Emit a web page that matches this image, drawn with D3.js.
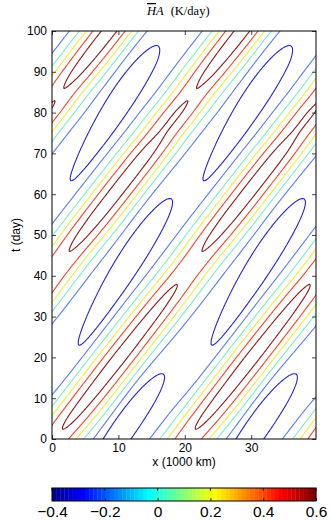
<!DOCTYPE html>
<html>
<head>
<meta charset="utf-8">
<script src="https://cdn.jsdelivr.net/npm/d3@7"></script>
<style>
  body { margin: 0; background: #fff; }
  svg { display: block; }
  text { font-family: "Liberation Sans", Arial, Helvetica, sans-serif; fill: #000; }
</style>
</head>
<body>
<svg id="svg"></svg>
<script>
// contour levels (K/day) and their line colours
const levels = [-0.3, -0.15, 0, 0.15, 0.3, 0.45]
const levelColors = ["#2323dc", "#5b7ef4", "#7cefc4", "#eeee3c", "#fb4422", "#8e1818"]

// warm crest (repeats every 20 000 km): position along t
const crestT = [0, 10, 20, 30, 40, 50, 60, 70, 80, 90, 100]
const crestX = [0.5, 5.4, 10.2, 15.0, 19.8, 24.6, 29.4, 34.2, 39.0, 43.8, 48.6]

// crest peak value along t
const peakT = [0, 5, 10, 15, 20, 25, 30, 35, 40, 45, 50, 55, 60, 65, 70, 75, 80, 85, 90, 95, 100]
const peakVal = [0.43, 0.47, 0.49, 0.5, 0.505, 0.5, 0.49, 0.47, 0.44, 0.445, 0.48, 0.5, 0.505, 0.505, 0.495, 0.465, 0.462, 0.447, 0.48, 0.5, 0.505]

// cold cells (closed dark blue loops), pointed tip to blunt tip
const coldX0 = [1.5, 1.8, 1.6, 19.2]
const coldT0 = [-21, 15.5, 59, 99.3]
const coldX1 = [17.6, 18.4, 16.3, 34.0]
const coldT1 = [21.5, 62.5, 99.5, 137]
const coldVal = [-0.18, -0.18, -0.18, -0.18]

const background = -0.27

// axes
const xTicks = [0, 10, 20, 30]
const tTicks = [0, 10, 20, 30, 40, 50, 60, 70, 80, 90, 100]
const barTicks = [-0.4, -0.2, 0, 0.2, 0.4, 0.6]

const W = 332, H = 521
const plot = { left: 52, right: 316, top: 31, bottom: 439 }
const xMax = 39.75

const svg = d3.select("#svg").attr("width", W).attr("height", H)

const x = d3.scaleLinear().domain([0, xMax]).range([plot.left, plot.right])
const y = d3.scaleLinear().domain([0, 100]).range([plot.bottom, plot.top])

function catmull(ks, vs, t) {
  const n = ks.length
  if (t <= ks[0]) return vs[0] + (vs[1] - vs[0]) * (t - ks[0]) / (ks[1] - ks[0])
  if (t >= ks[n - 1]) return vs[n - 1] + (vs[n - 1] - vs[n - 2]) * (t - ks[n - 1]) / (ks[n - 1] - ks[n - 2])
  let i = 0
  while (ks[i + 1] < t) i++
  const u = (t - ks[i]) / (ks[i + 1] - ks[i])
  const p1 = vs[i], p2 = vs[i + 1]
  const p0 = i > 0 ? vs[i - 1] : 2 * p1 - p2
  const p3 = i + 2 < n ? vs[i + 2] : 2 * p2 - p1
  return 0.5 * ((2 * p1) + (-p0 + p2) * u + (2 * p0 - 5 * p1 + 4 * p2 - p3) * u * u + (-p0 + 3 * p1 - 3 * p2 + p3) * u * u * u)
}

const crestSigma = 3.1
const coldSigmaA = 4, coldSigmaB = 12
const periodPx = x(20) - x(0)

const cells = coldX0.map((d, i) => {
  const ax = x(coldX0[i]), ay = y(coldT0[i]), bx = x(coldX1[i]), by = y(coldT1[i])
  const len = Math.hypot(bx - ax, by - ay)
  return { cx: (ax + bx) / 2, cy: (ay + by) / 2, ex: (bx - ax) / len, ey: (by - ay) / len, h: len / 2, su: len / 2 / 1.9, amp: coldVal[i] }
})

function field(xv, tv) {
  const xc = catmull(crestT, crestX, tv)
  const pk = catmull(peakT, peakVal, tv)
  let s = xv - xc
  s = ((s + 10) % 20 + 20) % 20 - 10
  let g = 0
  for (let k = -1; k <= 1; k++) g += Math.exp(-((s + 20 * k) ** 2) / (2 * crestSigma * crestSigma))
  let v = background + (pk - background) * g
  const px = x(xv), py = y(tv)
  cells.forEach(c => {
    for (let k = -2; k <= 2; k++) {
      const dx = px + k * periodPx - c.cx, dy = py - c.cy
      const u = dx * c.ex + dy * c.ey
      const w = -dx * c.ey + dy * c.ex
      const sv = Math.max(3, coldSigmaA + (coldSigmaB - coldSigmaA) * (u + c.h) / (2 * c.h))
      v += c.amp * Math.exp(-(u * u) / (2 * c.su * c.su) - (w * w) / (2 * sv * sv))
    }
  })
  return v
}

// sample grid
const gx0 = -2, gdx = 0.2, nx = 221
const gt0 = -4, gdt = 0.4, ny = 271
const values = new Float64Array(nx * ny)
for (let j = 0; j < ny; j++) {
  for (let i = 0; i < nx; i++) values[j * nx + i] = field(gx0 + i * gdx, gt0 + j * gdt)
}

const contours = d3.contours().size([nx, ny]).thresholds(levels)(values)

const proj = d3.geoTransform({
  point: function (gx, gy) {
    this.stream.point(x(gx0 + (gx - 0.5) * gdx), y(gt0 + (gy - 0.5) * gdt))
  }
})
const path = d3.geoPath(proj)

svg.append("defs").append("clipPath").attr("id", "clip")
  .append("rect")
  .attr("x", plot.left).attr("y", plot.top)
  .attr("width", plot.right - plot.left).attr("height", plot.bottom - plot.top)

const colorOf = d3.scaleOrdinal().domain(levels).range(levelColors)

svg.append("g").attr("clip-path", "url(#clip)")
  .selectAll("path")
  .data(contours)
  .enter()
  .append("path")
  .attr("d", path)
  .attr("fill", "none")
  .attr("stroke", d => colorOf(d.value))
  .attr("stroke-width", 1.1)
  .attr("stroke-linejoin", "round")

// axes, ticks point inward
const tickLen = 4
const axL = svg.append("g").attr("transform", `translate(${plot.left},0)`)
  .call(d3.axisLeft(y).tickValues(tTicks).tickSizeInner(-tickLen).tickSizeOuter(0).tickPadding(5))
const axR = svg.append("g").attr("transform", `translate(${plot.right},0)`)
  .call(d3.axisRight(y).tickValues(tTicks).tickSizeInner(-tickLen).tickSizeOuter(0).tickFormat(""))
const axB = svg.append("g").attr("transform", `translate(0,${plot.bottom})`)
  .call(d3.axisBottom(x).tickValues(xTicks).tickSizeInner(-tickLen).tickSizeOuter(0).tickPadding(4))
const axT = svg.append("g").attr("transform", `translate(0,${plot.top})`)
  .call(d3.axisTop(x).tickValues(xTicks).tickSizeInner(-tickLen).tickSizeOuter(0).tickFormat(""))

;[axL, axR, axB, axT].forEach(a => {
  a.select(".domain").remove()
  a.selectAll("line").attr("stroke", "#444")
  a.selectAll("text").attr("font-size", 12).attr("font-family", '"Liberation Sans", Arial, sans-serif')
})

svg.append("rect")
  .attr("x", plot.left).attr("y", plot.top)
  .attr("width", plot.right - plot.left).attr("height", plot.bottom - plot.top)
  .attr("fill", "none").attr("stroke", "#000").attr("stroke-width", 1)

// labels
svg.append("text")
  .attr("x", (plot.left + plot.right) / 2).attr("y", 466)
  .attr("text-anchor", "middle").attr("font-size", 12)
  .text("x (1000 km)")

svg.append("text")
  .attr("transform", `translate(20,${(plot.top + plot.bottom) / 2}) rotate(-90)`)
  .attr("text-anchor", "middle").attr("font-size", 12)
  .text("t (day)")

const title = svg.append("text")
  .attr("x", 147).attr("y", 15)
  .attr("font-size", 12.5)
  .style("font-family", '"Liberation Serif", "DejaVu Serif", serif')
title.append("tspan").attr("font-style", "italic").style("text-decoration", "overline").text("H")
title.append("tspan").attr("font-style", "italic").text("A")
title.append("tspan").attr("dx", 7).text("(K/day)")

// colour bar (jet, 64 entries)
function jet64(i) {
  const u = j => (j <= 16 ? j / 16 : j <= 31 ? 1 : (48 - j) / 16)
  const pick = j => (j >= 1 && j <= 47 ? u(j) : 0)
  const r = pick(i - 24), g = pick(i - 8), b = pick(i + 8)
  return d3.rgb(r * 255, g * 255, b * 255)
}

const bar = { top: 488, bottom: 501 }
const cx = d3.scaleLinear().domain([-0.4, 0.6]).range([plot.left, plot.right])
const nColors = 64
const barSteps = d3.range(nColors)

svg.append("g").selectAll("rect")
  .data(barSteps)
  .enter()
  .append("rect")
  .attr("x", d => cx(-0.4 + d / nColors))
  .attr("width", d => cx(-0.4 + (d + 1) / nColors) - cx(-0.4 + d / nColors) + 0.3)
  .attr("y", bar.top)
  .attr("height", bar.bottom - bar.top)
  .attr("fill", d => jet64(d + 1))

const barAxis = svg.append("g").attr("transform", `translate(0,${bar.bottom})`)
  .call(d3.axisBottom(cx).tickValues(barTicks).tickSizeInner(-3).tickSizeOuter(0).tickPadding(5).tickFormat(d3.format("")))
barAxis.select(".domain").remove()
barAxis.selectAll("line").attr("stroke", "#222")
barAxis.selectAll("text").attr("font-size", 15.5)

svg.append("g").selectAll("line")
  .data(barTicks)
  .enter()
  .append("line")
  .attr("x1", d => cx(d)).attr("x2", d => cx(d))
  .attr("y1", bar.top).attr("y2", bar.top + 3)
  .attr("stroke", "#222")

svg.append("rect")
  .attr("x", plot.left).attr("y", bar.top)
  .attr("width", plot.right - plot.left).attr("height", bar.bottom - bar.top)
  .attr("fill", "none").attr("stroke", "#000").attr("stroke-width", 1)
</script>
</body>
</html>
